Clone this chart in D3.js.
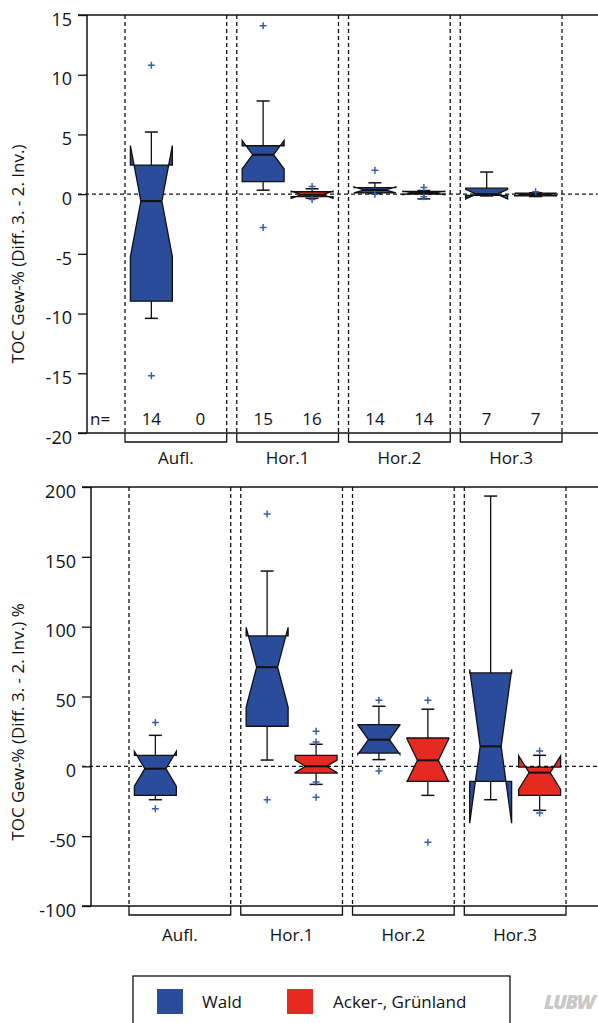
<!DOCTYPE html>
<html>
<head>
<meta charset="utf-8">
<script src="https://cdn.jsdelivr.net/npm/d3@7"></script>
<style>
  html, body { margin: 0; padding: 0; background: #fff; }
  svg { display: block; }
  text { font-family: "Open Sans", "Noto Sans", sans-serif; fill: #111; }
</style>
</head>
<body>
<svg id="chart" width="598" height="1023"></svg>
<script>
// Soil horizons and land-use series
const groups = ["Aufl.", "Hor.1", "Hor.2", "Hor.3"];
const series = ["Wald", "Acker-, Grünland"];
const nWald = [14, 15, 14, 7];
const nAcker = [0, 16, 14, 7];

// Box statistics: [whiskerLow, q1, median, q3, whiskerHigh, notchHalf]
// Absolute change, TOC Gew-%
const absWald = [
  [-10.4, -8.96, -0.58, 2.43, 5.2, 4.65],
  [0.33, 1.05, 3.3, 4.05, 7.8, 1.2],
  [0.05, 0.1, 0.35, 0.55, 0.95, 0.25],
  [-0.15, -0.1, 0.0, 0.5, 1.85, 0.4]
];
const absAcker = [
  null,
  [-0.35, -0.2, -0.05, 0.2, 0.45, 0.3],
  [-0.4, 0.0, 0.1, 0.22, 0.3, 0.15],
  [-0.2, -0.15, -0.02, 0.08, 0.12, 0.1]
];
const absWaldOut = [[10.8, -15.2], [14.1, -2.8], [2.0, 0.0], []];
const absAckerOut = [[], [0.65, -0.45], [0.55, -0.22], [0.2]];

// Relative change, %
const relWald = [
  [-23.9, -20.8, -1.7, 7.9, 22.2, 12.5],
  [4.5, 28.7, 71.0, 93.4, 139.8, 28.5],
  [4.8, 9.5, 19.1, 29.9, 43.0, 10.5],
  [-23.9, -10.8, 14.3, 66.9, 193.5, 55]
];
const relAcker = [
  null,
  [-12.9, -4.8, 0.0, 7.9, 15.8, 4.5],
  [-20.8, -10.8, 4.3, 20.3, 40.9, 15.5],
  [-31.5, -20.8, -4.5, -0.5, 7.9, 12]
];
const relWaldOut = [[31.3, -30.3], [180.6, -23.9], [47.3, -3.3], []];
const relAckerOut = [[], [25.1, 17.4, -11.2, -22.2], [47.3, -54.3], [11.0, -33.5]];

const absTicks = [-20, -15, -10, -5, 0, 5, 10, 15];
const relTicks = [-100, -50, 0, 50, 100, 150, 200];

const colors = { "Wald": "#2b4c9b", "Acker-, Grünland": "#e52a22" };
const outlierColor = "#3a5cb0";

const svg = d3.select("#chart");
const W = 598;

function drawPanel(cfg) {
  const g = svg.append("g");
  const y = d3.scaleLinear().domain(cfg.domain).range([cfg.yBottom, cfg.yTop]);
  const x = d3.scaleBand().domain(groups).range(cfg.xRange).paddingInner(0.09);
  const xs = d3.scaleBand().domain(series).range([0, x.bandwidth()])
    .paddingInner(0.143).paddingOuter(0.11);
  const boxHalf = xs.bandwidth() / 2;

  // y axis (plain hyphen for negative numbers)
  const axis = d3.axisLeft(y).tickValues(cfg.ticks).tickFormat(d => String(d))
    .tickSize(9).tickSizeOuter(0).tickPadding(0);
  const ag = g.append("g").attr("transform", `translate(${cfg.axisX},0)`).call(axis);
  ag.select(".domain").remove();
  ag.selectAll(".tick line").attr("stroke", "#111").attr("stroke-width", 1.3);
  ag.selectAll(".tick text")
    .attr("x", -15).attr("dy", "0.62em").attr("y", -1)
    .style("font-size", "18px").attr("fill", "#111");
  ag.selectAll("text").style("font-family", '"Open Sans", sans-serif');

  g.append("line").attr("x1", cfg.axisX).attr("x2", cfg.axisX)
    .attr("y1", cfg.yTop).attr("y2", cfg.yBottom).attr("stroke", "#111").attr("stroke-width", 1.5);
  // frame lines at top and bottom of the plotting area
  [cfg.yTop, cfg.yBottom].forEach(v => {
    g.append("line").attr("x1", cfg.axisX - 9).attr("x2", W)
      .attr("y1", v).attr("y2", v).attr("stroke", "#111").attr("stroke-width", 1.5);
  });

  // zero reference
  g.append("line").attr("x1", cfg.axisX - 9).attr("x2", W)
    .attr("y1", y(0)).attr("y2", y(0))
    .attr("stroke", "#111").attr("stroke-width", 1.2).attr("stroke-dasharray", "4,3");

  // group boundaries and brackets
  groups.forEach(gr => {
    const x0 = x(gr), x1 = x(gr) + x.bandwidth();
    [x0, x1].forEach(xx => {
      g.append("line").attr("x1", xx).attr("x2", xx)
        .attr("y1", cfg.yTop).attr("y2", cfg.yBottom)
        .attr("stroke", "#111").attr("stroke-width", 1.3).attr("stroke-dasharray", "4,3");
    });
    g.append("path")
      .attr("d", `M${x0},${cfg.yBottom}V${cfg.yBottom + 9}H${x1}V${cfg.yBottom}`)
      .attr("fill", "none").attr("stroke", "#111").attr("stroke-width", 1.3);
    g.append("text").attr("x", (x0 + x1) / 2).attr("y", cfg.yBottom + cfg.labelOffset)
      .attr("text-anchor", "middle").style("font-size", "17px").text(gr);
  });

  // boxes
  const sets = [
    { name: series[0], stats: cfg.wald, out: cfg.waldOut },
    { name: series[1], stats: cfg.acker, out: cfg.ackerOut }
  ];
  sets.forEach(s => {
    groups.forEach((gr, i) => {
      const cx = x(gr) + xs(s.name) + boxHalf;
      const st = s.stats[i];
      if (st) {
        const [wl, q1, med, q3, wh, nh] = st;
        const col = "#111";
        // whiskers
        if (wh > q3) {
          g.append("line").attr("x1", cx).attr("x2", cx).attr("y1", y(q3)).attr("y2", y(wh))
            .attr("stroke", col).attr("stroke-width", 1.3);
          g.append("line").attr("x1", cx - 6.5).attr("x2", cx + 6.5).attr("y1", y(wh)).attr("y2", y(wh))
            .attr("stroke", col).attr("stroke-width", 1.5);
        }
        if (wl < q1) {
          g.append("line").attr("x1", cx).attr("x2", cx).attr("y1", y(q1)).attr("y2", y(wl))
            .attr("stroke", col).attr("stroke-width", 1.3);
          g.append("line").attr("x1", cx - 6.5).attr("x2", cx + 6.5).attr("y1", y(wl)).attr("y2", y(wl))
            .attr("stroke", col).attr("stroke-width", 1.5);
        }
        // notched box
        const nlo = med - nh, nhi = med + nh;
        const pts = [
          [cx - boxHalf, y(q1)], [cx - boxHalf, y(nlo)], [cx - boxHalf / 2, y(med)],
          [cx - boxHalf, y(nhi)], [cx - boxHalf, y(q3)], [cx + boxHalf, y(q3)],
          [cx + boxHalf, y(nhi)], [cx + boxHalf / 2, y(med)], [cx + boxHalf, y(nlo)],
          [cx + boxHalf, y(q1)]
        ];
        g.append("path").attr("d", d3.line()(pts) + "Z")
          .attr("fill", colors[s.name]).attr("stroke", col).attr("stroke-width", 1.3)
          .attr("stroke-linejoin", "miter");
        g.append("line").attr("x1", cx - boxHalf / 2).attr("x2", cx + boxHalf / 2)
          .attr("y1", y(med)).attr("y2", y(med)).attr("stroke", col).attr("stroke-width", 2);
      }
      // outliers
      s.out[i].forEach(v => {
        const py = y(v);
        g.append("path").attr("d", `M${cx - 3.5},${py}H${cx + 3.5}M${cx},${py - 3.5}V${py + 3.5}`)
          .attr("stroke", outlierColor).attr("stroke-width", 1.5).attr("fill", "none");
      });
    });
  });

  // y axis title
  g.append("text")
    .attr("transform", `translate(24,${cfg.titleY}) rotate(-90)`)
    .attr("text-anchor", "middle").style("font-size", "17px").text(cfg.title);

  return { x, xs, y, boxHalf };
}

const absPanel = drawPanel({
  domain: [-20, 15], yTop: 15, yBottom: 433, axisX: 87, xRange: [125, 562],
  ticks: absTicks, wald: absWald, acker: absAcker, waldOut: absWaldOut, ackerOut: absAckerOut,
  labelOffset: 31, title: "TOC Gew-% (Diff. 3. - 2. Inv.)", titleY: 254
});

// sample counts
const nY = 425;
svg.append("text").attr("x", 90).attr("y", nY).style("font-size", "17px").text("n=");
groups.forEach((gr, i) => {
  [nWald, nAcker].forEach((arr, k) => {
    const cx = absPanel.x(gr) + absPanel.xs(series[k]) + absPanel.boxHalf;
    svg.append("text").attr("x", cx).attr("y", nY).attr("text-anchor", "middle")
      .style("font-size", "17px").text(arr[i]);
  });
});

drawPanel({
  domain: [-100, 200], yTop: 487, yBottom: 906, axisX: 91, xRange: [129, 566],
  ticks: relTicks, wald: relWald, acker: relAcker, waldOut: relWaldOut, ackerOut: relAckerOut,
  labelOffset: 35, title: "TOC Gew-% (Diff. 3. - 2. Inv.) %", titleY: 722
});

// legend
const lg = svg.append("g");
lg.append("rect").attr("x", 133).attr("y", 976).attr("width", 377).attr("height", 60)
  .attr("fill", "none").attr("stroke", "#111").attr("stroke-width", 1.3);
const legendItems = [
  { name: series[0], sx: 157, tx: 202 },
  { name: series[1], sx: 287, tx: 333 }
];
legendItems.forEach(it => {
  lg.append("rect").attr("x", it.sx).attr("y", 989).attr("width", 26).attr("height", 25)
    .attr("fill", colors[it.name]);
  lg.append("text").attr("x", it.tx).attr("y", 1008).style("font-size", "17px").text(it.name);
});

// publisher mark
svg.append("text").attr("x", 594).attr("y", 1009).attr("text-anchor", "end")
  .style("font-size", "20px").style("font-weight", "900").style("font-style", "italic")
  .style("letter-spacing", "-1.5px").style("fill", "#c8c8c8")
  .text("LUBW");
</script>
</body>
</html>
